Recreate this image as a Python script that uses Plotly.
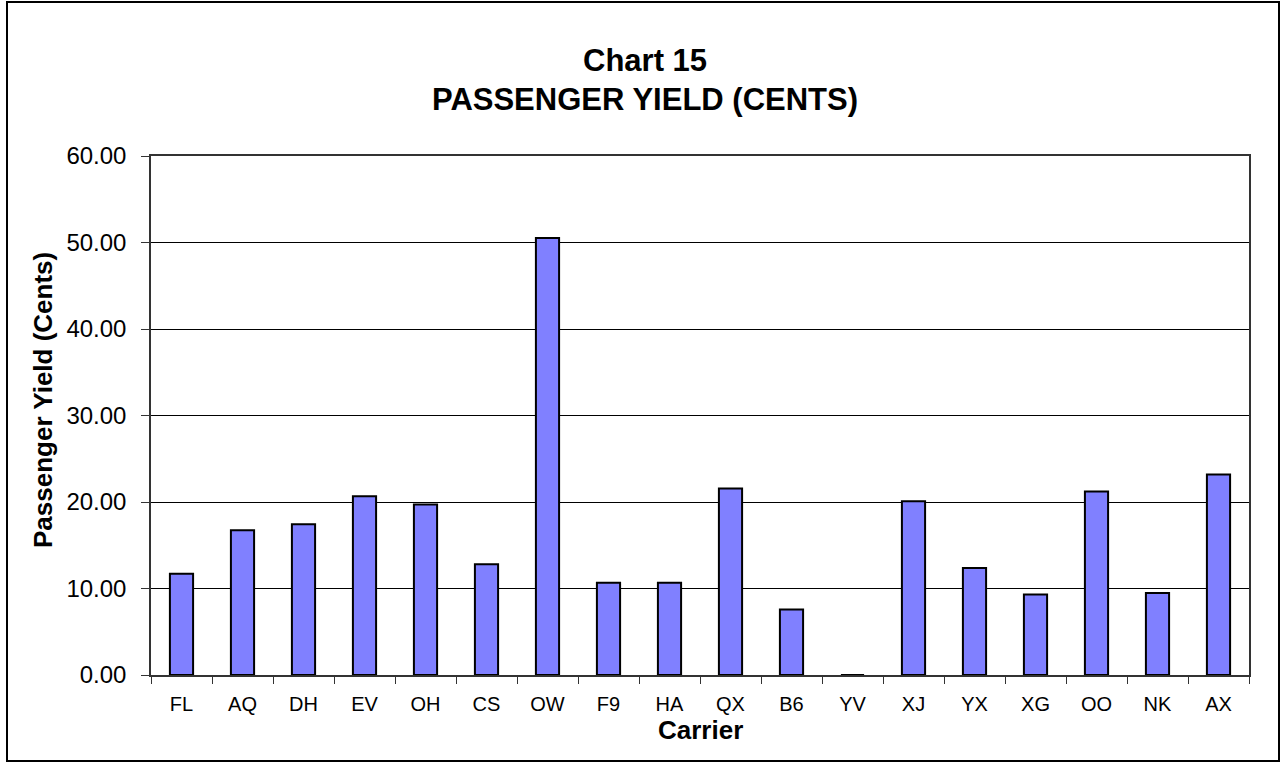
import plotly.graph_objects as go

carriers = ["FL", "AQ", "DH", "EV", "OH", "CS", "OW", "F9", "HA", "QX",
            "B6", "YV", "XJ", "YX", "XG", "OO", "NK", "AX"]
yield_cents = [11.70, 16.73, 17.43, 20.67, 19.70, 12.79, 50.52, 10.67, 10.67, 21.57,
               7.58, 0.00, 20.10, 12.36, 9.31, 21.20, 9.47, 23.17]

FONT = "Liberation Sans, Arial, sans-serif"

SL, SR, ST, SB = 151, 1249, 156, 675          # plot area in page pixels
W, H = 1281, 764
L, T = SL, ST
pw, ph = SR - SL, SB - ST
R, B = W - L - pw, H - T - ph

def px(x):
    return (x - SL) / pw

def py(y):
    return (SB - y) / ph

fig = go.Figure()
fig.add_trace(go.Bar(
    x=carriers, y=yield_cents,
    marker=dict(color="#8080FF", line=dict(color="black", width=2)),
    hoverinfo="x+y",
))

fig.update_layout(
    width=W, height=H,
    margin=dict(l=L, r=R, t=T, b=B, pad=0),
    paper_bgcolor="white", plot_bgcolor="white",
    bargap=0.62,
    showlegend=False,
    font=dict(family=FONT, color="black"),
    xaxis=dict(
        type="category",
        tickson="boundaries",
        ticks="outside", ticklen=7, tickcolor="#333", tickwidth=1,
        tickfont=dict(size=20, family=FONT),
        ticklabelstandoff=10,
        showline=True, linecolor="#333", linewidth=1.5, mirror=True,
        showgrid=False,
        fixedrange=True,
    ),
    yaxis=dict(
        range=[0, 60], dtick=10, tickformat=".2f",
        ticks="outside", ticklen=8, tickcolor="#333", tickwidth=1,
        tickfont=dict(size=24, family=FONT),
        ticklabelstandoff=10,
        showline=True, linecolor="#333", linewidth=1.5, mirror=True,
        showgrid=True, gridcolor="black", gridwidth=1,
        zeroline=False,
        fixedrange=True,
    ),
    annotations=[
        dict(text="<b>Chart 15</b>", xref="paper", yref="paper",
             x=px(645), y=py(60), showarrow=False, xanchor="center", yanchor="middle",
             font=dict(size=31, family=FONT)),
        dict(text="<b>PASSENGER YIELD (CENTS)</b>", xref="paper", yref="paper",
             x=px(645), y=py(100), showarrow=False, xanchor="center", yanchor="middle",
             font=dict(size=31, family=FONT)),
        dict(text="<b>Carrier</b>", xref="paper", yref="paper",
             x=px(700), y=py(730), showarrow=False, xanchor="center", yanchor="middle",
             font=dict(size=26, family=FONT)),
        dict(text="<b>Passenger Yield (Cents)</b>", xref="paper", yref="paper",
             x=px(43), y=py(400), showarrow=False, xanchor="center", yanchor="middle",
             textangle=-90, font=dict(size=26, family=FONT)),
    ],
    shapes=[
        dict(type="rect", xref="paper", yref="paper",
             x0=px(7), x1=px(1279), y0=py(761), y1=py(2),
             line=dict(color="black", width=2), layer="below"),
    ],
)

fig.write_html(
    "out.html",
    config={"displayModeBar": False},
    post_script="document.body.style.margin='0';document.body.style.overflow='hidden';",
)
